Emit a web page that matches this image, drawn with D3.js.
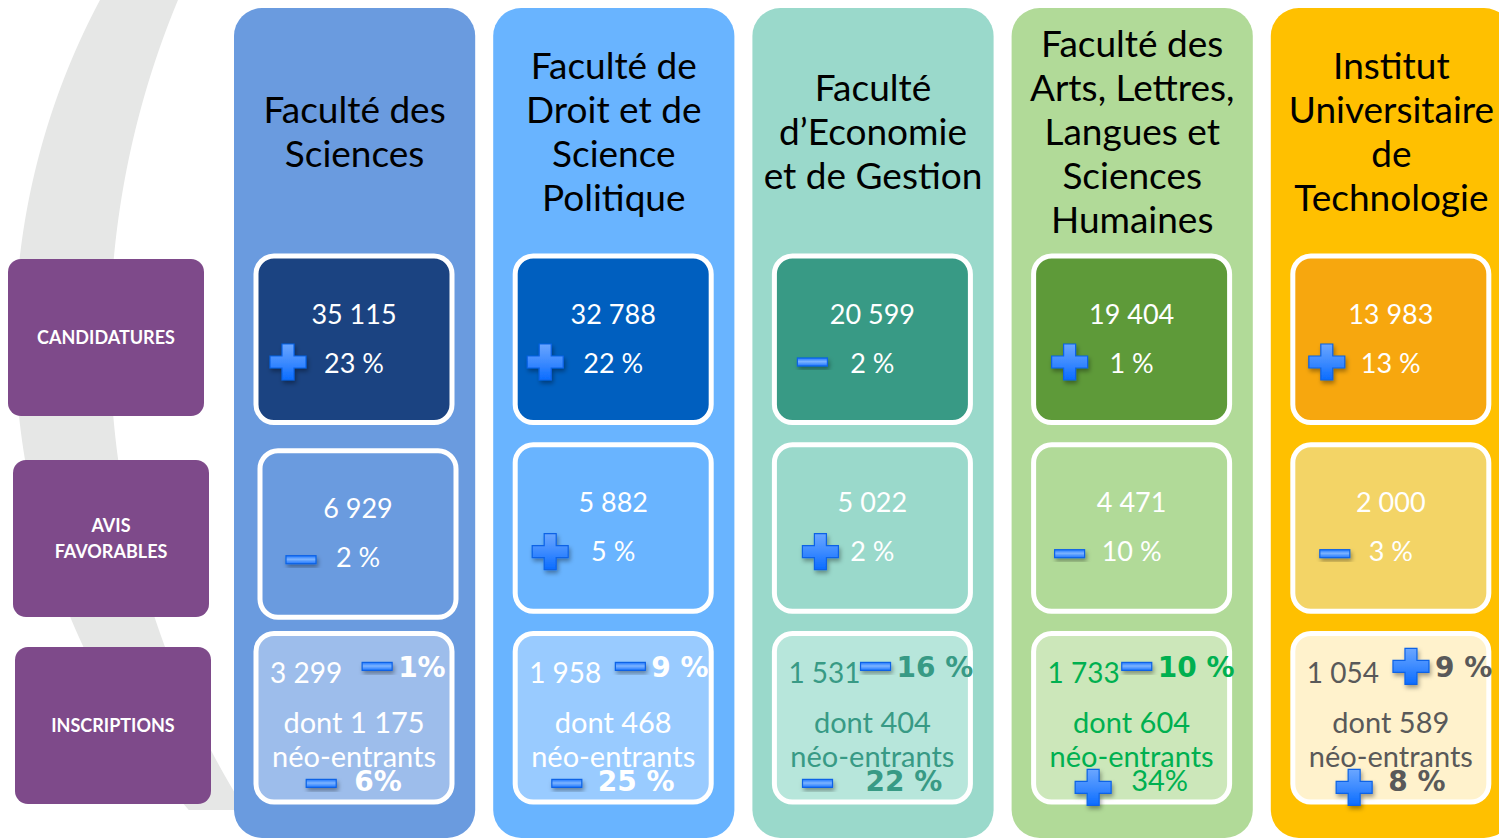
<!DOCTYPE html>
<html><head><meta charset="utf-8">
<script src="https://cdn.jsdelivr.net/npm/d3@7"></script>
<style>
html,body{margin:0;padding:0;background:#fff;}
svg{display:block;}
text{font-family:Lato,"Open Sans",sans-serif;}
</style>
</head><body>
<svg id="chart" width="1499" height="840"></svg>
<script>
// ---------- DATA ----------
const faculties = [
  ["Faculté des", "Sciences"],
  ["Faculté de", "Droit et de", "Science", "Politique"],
  ["Faculté", "d\u2019Economie", "et de Gestion"],
  ["Faculté des", "Arts, Lettres,", "Langues et", "Sciences", "Humaines"],
  ["Institut", "Universitaire", "de", "Technologie"]
];
const rowLabels = [["CANDIDATURES"], ["AVIS", "FAVORABLES"], ["INSCRIPTIONS"]];
const candidatures      = [35115, 32788, 20599, 19404, 13983];
const candidaturesEvol  = [23, 22, -2, 1, 13];
const avisFavorables    = [6929, 5882, 5022, 4471, 2000];
const avisEvol          = [-2, 5, 2, -10, -3];
const inscriptions      = [3299, 1958, 1531, 1733, 1054];
const inscriptionsEvol  = [-1, -9, -16, -10, 9];
const neoEntrants       = [1175, 468, 404, 604, 589];
const neoEvol           = [-6, -25, -22, 34, 8];
// label formatting: space before % sign?
const inscriptionsEvolSpaced = [false, true, true, true, true];
const neoEvolSpaced          = [false, true, true, false, true];

// ---------- STYLE / LAYOUT ----------
const colFill   = ["#6A9BDF", "#69B4FF", "#9AD9CB", "#B1DA98", "#FFC000"];
const row1Fill  = ["#1B4381", "#005FBF", "#389A85", "#5E9A39", "#F7A70E"];
const row2Fill  = ["#6A9BDF", "#69B4FF", "#9AD9CB", "#B1DA98", "#F3D466"];
const row3Fill  = ["#9DBDEB", "#99CBFF", "#B7E6DB", "#CCE7BA", "#FFF2CC"];
const row3Text  = ["#FFFFFF", "#FFFFFF", "#389A85", "#00B050", "#595959"];
const neoBold   = [true, true, true, false, true];
const row1IconDx = [32, 30, 38, 36, 34];
const row2IconDx = [42, 36, 47, 37, 43];
const inscrGap   = [20, 14, 0, 2, 14];
const neoGap     = [18, 16, 33, 20, 16];
const purple = "#7E4A8A";
const boldFont = "'DejaVu Sans', Verdana, sans-serif";

const locale = d3.formatLocale({decimal: ",", thousands: " ", grouping: [3], currency: ["", " €"]});
const fmt = locale.format(",d");
const pct = (v, spaced) => Math.abs(v) + (spaced ? " %" : "%");

const svg = d3.select("#chart");

// defs: gradients + shadow
const defs = svg.append("defs");
const gPlus = defs.append("linearGradient").attr("id", "gPlus").attr("x1", 0).attr("y1", 0).attr("x2", 0).attr("y2", 1);
gPlus.append("stop").attr("offset", "0%").attr("stop-color", "#6AA6FF");
gPlus.append("stop").attr("offset", "50%").attr("stop-color", "#3D8BFF");
gPlus.append("stop").attr("offset", "100%").attr("stop-color", "#0A6CFF");
const gMinus = defs.append("linearGradient").attr("id", "gMinus").attr("x1", 0).attr("y1", 0).attr("x2", 0).attr("y2", 1);
gMinus.append("stop").attr("offset", "0%").attr("stop-color", "#1D76FF");
gMinus.append("stop").attr("offset", "45%").attr("stop-color", "#7DB4FF");
gMinus.append("stop").attr("offset", "100%").attr("stop-color", "#1D76FF");
const sh = defs.append("filter").attr("id", "shadow").attr("x", "-50%").attr("y", "-50%").attr("width", "200%").attr("height", "200%");
sh.append("feDropShadow").attr("dx", 1.5).attr("dy", 3).attr("stdDeviation", 2).attr("flood-color", "#000").attr("flood-opacity", 0.35);

// ---------- SCALES ----------
const x = d3.scaleBand().domain(d3.range(faculties.length)).range([234, 1512]).paddingInner(18 / 259).paddingOuter(0);
const y = d3.scaleBand().domain([0, 1, 2]).range([256, 800]).paddingInner(22 / 188).paddingOuter(0);
const boxInset = 22, boxW = 196;

// ---------- BACKGROUND CRESCENT ----------
(function crescent() {
  const oc = {x: 737.5, y: 340, r: 722.5};
  const ic = {x: 994, y: 340, r: 884};
  const ys = d3.range(-10, 813, 4);
  const outer = ys.map(yy => [oc.x - Math.sqrt(oc.r * oc.r - (yy - oc.y) ** 2), yy]);
  const inner = ys.slice().reverse().map(yy => [ic.x - Math.sqrt(ic.r * ic.r - (yy - ic.y) ** 2), yy]);
  svg.append("path")
    .attr("d", d3.line()(outer.concat(inner)) + "Z")
    .attr("fill", "#E6E7E6");
})();

// ---------- ROW LABELS ----------
const labelBoxes = [{x: 8, y: 259}, {x: 13, y: 460}, {x: 15, y: 647}];
const lab = svg.append("g").selectAll("g").data(rowLabels).join("g")
  .attr("transform", (d, i) => `translate(${labelBoxes[i].x},${labelBoxes[i].y})`);
lab.append("rect").attr("width", 196).attr("height", 157).attr("rx", 13).attr("fill", purple);
lab.each(function (d) {
  const g = d3.select(this);
  const lh = 26;
  d.forEach((line, k) => {
    g.append("text").attr("x", 98).attr("y", 78.5 + (k - (d.length - 1) / 2) * lh + 6.5)
      .attr("text-anchor", "middle").attr("fill", "#fff")
      .attr("font-size", 18).attr("font-weight", "bold").text(line);
  });
});

// ---------- COLUMNS ----------
const cols = svg.append("g").selectAll("g").data(faculties).join("g")
  .attr("transform", (d, i) => `translate(${x(i)},0)`);
cols.append("rect").attr("y", 8).attr("width", x.bandwidth()).attr("height", 830)
  .attr("rx", 28).attr("fill", (d, i) => colFill[i]);

// titles
cols.each(function (lines) {
  const g = d3.select(this);
  const lh = 44, cy = 131.5;
  lines.forEach((line, k) => {
    g.append("text").attr("x", x.bandwidth() / 2)
      .attr("y", cy + (k - (lines.length - 1) / 2) * lh + 13)
      .attr("text-anchor", "middle").attr("font-size", 37).attr("fill", "#000").text(line);
  });
});

function icon(g, v, cx, cy) {
  if (v >= 0) {
    const a = 18, t = 6;
    g.append("path")
      .attr("d", `M${cx - t},${cy - a}H${cx + t}V${cy - t}H${cx + a}V${cy + t}H${cx + t}V${cy + a}H${cx - t}V${cy + t}H${cx - a}V${cy - t}H${cx - t}Z`)
      .attr("fill", "url(#gPlus)").attr("stroke", "#0B62E6").attr("stroke-width", 1.2)
      .attr("filter", "url(#shadow)");
  } else {
    g.append("rect").attr("x", cx - 15).attr("y", cy - 4).attr("width", 30).attr("height", 8)
      .attr("fill", "url(#gMinus)").attr("stroke", "#0B62E6").attr("stroke-width", 1.2)
      .attr("filter", "url(#shadow)");
  }
}

const fs = 27, fs3 = 29, fsb = 28;
cols.each(function (d, i) {
  const g = d3.select(this);
  const bx = boxInset, cxm = boxInset + boxW / 2;
  const r1 = y(0), r2 = y(1) + (i === 0 ? 6 : 0), r3 = y(2);
  const r2x = i === 0 ? 4 : 0;

  // Row 1 : candidatures
  g.append("rect").attr("x", bx).attr("y", r1).attr("width", boxW).attr("height", y.bandwidth())
    .attr("rx", 18).attr("fill", row1Fill[i]).attr("stroke", "#fff").attr("stroke-width", 5);
  g.append("text").attr("x", cxm).attr("y", r1 + 58 + 9.5).attr("text-anchor", "middle")
    .attr("fill", "#fff").attr("font-size", fs).text(fmt(candidatures[i]));
  icon(g, candidaturesEvol[i], bx + row1IconDx[i], r1 + 106);
  g.append("text").attr("x", cxm).attr("y", r1 + 107 + 9.5).attr("text-anchor", "middle")
    .attr("fill", "#fff").attr("font-size", fs).text(pct(candidaturesEvol[i], true));

  // Row 2 : avis favorables
  g.append("rect").attr("x", bx + r2x).attr("y", r2).attr("width", boxW).attr("height", y.bandwidth())
    .attr("rx", 18).attr("fill", row2Fill[i]).attr("stroke", "#fff").attr("stroke-width", 5);
  g.append("text").attr("x", cxm + r2x).attr("y", r2 + 58 + 9.5).attr("text-anchor", "middle")
    .attr("fill", "#fff").attr("font-size", fs).text(fmt(avisFavorables[i]));
  icon(g, avisEvol[i], bx - 1 + r2x + row2IconDx[i], r2 + 107 + (avisEvol[i] < 0 ? 2 : 0));
  g.append("text").attr("x", cxm + r2x).attr("y", r2 + 107 + 9.5).attr("text-anchor", "middle")
    .attr("fill", "#fff").attr("font-size", fs).text(pct(avisEvol[i], true));

  // Row 3 : inscriptions
  const tc = row3Text[i];
  g.append("rect").attr("x", bx).attr("y", r3).attr("width", boxW).attr("height", y.bandwidth() + 2)
    .attr("rx", 18).attr("fill", row3Fill[i]).attr("stroke", "#fff").attr("stroke-width", 5);
  const vt = g.append("text").attr("x", bx + 14).attr("y", r3 + 49.5)
    .attr("fill", tc).attr("font-size", 28).text(fmt(inscriptions[i]));
  const vw = vt.node().getComputedTextLength();
  const iw = inscriptionsEvol[i] >= 0 ? 36 : 30;
  const icx = bx + 14 + vw + inscrGap[i] + iw / 2;
  icon(g, inscriptionsEvol[i], icx, r3 + 33);
  g.append("text").attr("x", icx + iw / 2 + 6).attr("y", r3 + 44)
    .attr("fill", tc).attr("font-size", fsb).attr("font-weight", "bold")
    .style("font-family", boldFont)
    .text(pct(inscriptionsEvol[i], inscriptionsEvolSpaced[i]));
  g.append("text").attr("x", cxm).attr("y", r3 + 99.5).attr("text-anchor", "middle")
    .attr("fill", tc).attr("font-size", fs3).text("dont " + fmt(neoEntrants[i]));
  g.append("text").attr("x", cxm).attr("y", r3 + 134).attr("text-anchor", "middle")
    .attr("fill", tc).attr("font-size", fs3).text("néo-entrants");
  // bottom evolution group centred
  const bt = g.append("text").attr("y", r3 + 158)
    .attr("fill", tc)
    .attr("font-size", neoBold[i] ? fsb : fs3)
    .attr("font-weight", neoBold[i] ? "bold" : "normal")
    .style("font-family", neoBold[i] ? boldFont : null)
    .text(pct(neoEvol[i], neoEvolSpaced[i]));
  const bw = bt.node().getComputedTextLength();
  const biw = neoEvol[i] >= 0 ? 36 : 30;
  const start = cxm - (biw + neoGap[i] + bw) / 2;
  icon(g, neoEvol[i], start + biw / 2, r3 + 150 + (neoEvol[i] >= 0 ? 4 : 0));
  bt.attr("x", start + biw + neoGap[i]);
});
</script>
</body></html>
